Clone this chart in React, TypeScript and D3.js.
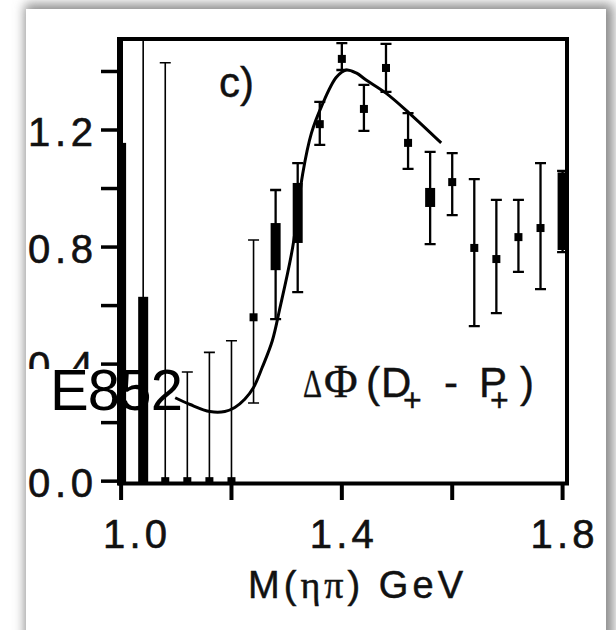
import React from "react"
import * as d3 from "d3"

// bin centres in M(eta pi), GeV
const MASSES = [
  1.0, 1.04, 1.08, 1.12, 1.16, 1.2, 1.24, 1.28, 1.32, 1.36, 1.4, 1.44, 1.48,
  1.52, 1.56, 1.6, 1.64, 1.68, 1.72, 1.76, 1.8,
]
// phase difference, central value
const PHASE = [
  0, 0, 0, 0, 0, 0, 0.56, 0.8, 0.917, 1.22, 1.443, 1.272, 1.412, 1.156, 0.971,
  1.022, 0.797, 0.759, 0.834, 0.865, 0.92,
]
// statistical error bar ends
const ERR_HI = [
  1.7, 1.7, 1.43, 0.373, 0.44, 0.48, 0.824, 0.995, 1.087, 1.296, 1.497, 1.354,
  1.494, 1.258, 1.125, 1.121, 1.032, 0.961, 0.961, 1.087, 1.06,
]
const ERR_LO = [
  -0.2, -0.2, -0.2, -0.2, -0.2, -0.2, 0.267, 0.554, 0.646, 1.149, 1.405, 1.197,
  1.33, 1.067, 0.81, 0.909, 0.53, 0.574, 0.715, 0.656, 0.783,
]
// wide (systematic) band, null where none is drawn
const SYS_HI = [
  1.156, 0.63, null, null, null, null, null, 0.882, 1.019, null, null, null,
  null, null, 1.002, null, null, null, null, null, 1.055,
]
const SYS_LO = [
  -0.2, -0.2, null, null, null, null, null, 0.721, 0.814, null, null, null,
  null, null, 0.937, null, null, null, null, null, 0.79,
]

// fit curve
const FIT_MASS = [
  1.098, 1.125, 1.161, 1.188, 1.206, 1.224, 1.24, 1.256, 1.274, 1.287, 1.311,
  1.329, 1.345, 1.363, 1.39, 1.408, 1.426, 1.444, 1.48, 1.522, 1.58,
]
const FIT_PHASE = [
  0.285, 0.262, 0.238, 0.238, 0.252, 0.28, 0.32, 0.39, 0.48, 0.585, 0.8, 1.05,
  1.19, 1.28, 1.38, 1.405, 1.395, 1.371, 1.326, 1.258, 1.156,
]

const Y_TICKS = [0, 0.2, 0.4, 0.6, 0.8, 1.0, 1.2, 1.4]
const Y_LABELS = ["0.0", "0.4", "0.8", "1.2"]
const Y_LABEL_VALUES = [0, 0.4, 0.8, 1.2]
const X_TICKS = [1.0, 1.2, 1.4, 1.6, 1.8]
const X_LABELS = ["1.0", "1.4", "1.8"]
const X_LABEL_VALUES = [1.0, 1.4, 1.8]

const W = 616
const H = 630
const plot = { left: 120, right: 567, top: 39, bottom: 483.5 }
const sans = "'Liberation Sans', Arial, sans-serif"
const serif = "'Liberation Serif', 'Times New Roman', serif"
const ink = "#111"

export default function App() {
  const x = d3.scaleLinear().domain([0.998, 1.808]).range([plot.left, plot.right])
  const y = d3.scaleLinear().domain([-0.008, 1.511]).range([plot.bottom, plot.top])

  const fitLine = d3
    .line<number>()
    .x((_, i) => x(FIT_MASS[i]))
    .y(d => y(d))
    .curve(d3.curveCatmullRom)

  const capW = 11
  const boxW = 10
  const mk = 8

  return (
    <svg
      width={W}
      height={H}
      style={{ position: "absolute", left: 0, top: 0, background: "#fff" }}
    >
      <defs>
        <filter id="card-shadow" x="-10%" y="-10%" width="120%" height="120%">
          <feGaussianBlur stdDeviation={6} />
        </filter>
        <clipPath id="plot-clip">
          <rect
            x={plot.left}
            y={plot.top}
            width={plot.right - plot.left}
            height={plot.bottom - plot.top}
          />
        </clipPath>
      </defs>

      {/* card with soft shadow */}
      <rect x={25} y={4} width={588} height={660} fill="#8a8a8a" filter="url(#card-shadow)" />
      <rect x={26} y={9} width={580} height={660} fill="#fff" />

      {/* data */}
      <g clipPath="url(#plot-clip)">
        {MASSES.map((m, i) => {
          const cx = x(m)
          const sw = m < 1.26 ? 1.6 : 2.3
          const hasSys = SYS_HI[i] != null
          return (
            <g key={m}>
              <line x1={cx} x2={cx} y1={y(ERR_LO[i])} y2={y(ERR_HI[i])} stroke="#000" strokeWidth={sw} />
              <line x1={cx - capW / 2} x2={cx + capW / 2} y1={y(ERR_HI[i])} y2={y(ERR_HI[i])} stroke="#000" strokeWidth={sw} />
              <line x1={cx - capW / 2} x2={cx + capW / 2} y1={y(ERR_LO[i])} y2={y(ERR_LO[i])} stroke="#000" strokeWidth={sw} />
              {hasSys && (
                <rect
                  x={cx - boxW / 2}
                  y={y(SYS_HI[i] as number)}
                  width={boxW}
                  height={y(SYS_LO[i] as number) - y(SYS_HI[i] as number)}
                  fill="#000"
                />
              )}
              <rect x={cx - mk / 2} y={y(PHASE[i]) - mk / 2} width={mk} height={mk} fill="#000" />
            </g>
          )
        })}
        <path d={fitLine(FIT_PHASE) ?? ""} fill="none" stroke="#000" strokeWidth={3} />
      </g>

      {/* frame */}
      <rect
        x={plot.left}
        y={plot.top}
        width={plot.right - plot.left}
        height={plot.bottom - plot.top}
        fill="none"
        stroke="#000"
        strokeWidth={4}
      />
      <line x1={plot.left} x2={plot.left} y1={plot.top - 2} y2={plot.bottom + 2} stroke="#000" strokeWidth={6} />

      {/* y axis */}
      {Y_TICKS.map(t => (
        <line key={t} x1={101} x2={plot.left} y1={y(t)} y2={y(t)} stroke="#000" strokeWidth={3.5} />
      ))}
      {Y_LABELS.map((lab, i) => (
        <text
          key={lab}
          x={28}
          y={y(Y_LABEL_VALUES[i]) + 16}
          fontSize={40}
          fontFamily={sans}
          fill={ink}
          stroke={ink}
          strokeWidth={0.6}
          textLength={65}
          lengthAdjust="spacing"
        >
          {lab}
        </text>
      ))}

      {/* x axis */}
      {X_TICKS.map(t => (
        <line key={t} x1={x(t)} x2={x(t)} y1={plot.bottom} y2={500} stroke="#000" strokeWidth={4} />
      ))}
      {X_LABELS.map((lab, i) => (
        <text
          key={lab}
          x={x(X_LABEL_VALUES[i]) - 32 + (i === 0 ? 14 : 0)}
          y={548}
          fontSize={40}
          fontFamily={sans}
          fill={ink}
          stroke={ink}
          strokeWidth={0.6}
          textLength={64}
          lengthAdjust="spacing"
        >
          {lab}
        </text>
      ))}
      <text
        x={248}
        y={598}
        fontSize={38}
        fontFamily={sans}
        fill={ink}
        stroke={ink}
        strokeWidth={0.5}
        textLength={215}
        lengthAdjust="spacing"
      >
        M(<tspan fontFamily={serif}>ηπ</tspan>) GeV
      </text>

      {/* annotations */}
      <text x={219} y={97} fontSize={42} fontFamily={sans} fill={ink} stroke={ink} strokeWidth={0.4}>
        c)
      </text>

      <rect x={27} y={369} width={85} height={28} fill="#fff" />
      <text x={50} y={410} fontSize={58} fontFamily={sans} fill="#000" textLength={133} lengthAdjust="spacing">
        E852
      </text>

      <g fontFamily={sans} fill={ink} stroke={ink} strokeWidth={0.4}>
        <text x={303} y={397} fontSize={40} fontFamily={serif} textLength={19} lengthAdjust="spacingAndGlyphs">
          Δ
        </text>
        <text x={324} y={397} fontSize={46} fontFamily={serif}>Φ</text>
        <text x={366} y={397} fontSize={42}>(</text>
        <text x={381} y={397} fontSize={42}>D</text>
        <text x={403} y={411} fontSize={32}>+</text>
        <text x={444} y={397} fontSize={42}>-</text>
        <text x={479} y={397} fontSize={42}>P</text>
        <text x={490} y={411} fontSize={32}>+</text>
        <text x={520} y={397} fontSize={42}>)</text>
      </g>
    </svg>
  )
}
